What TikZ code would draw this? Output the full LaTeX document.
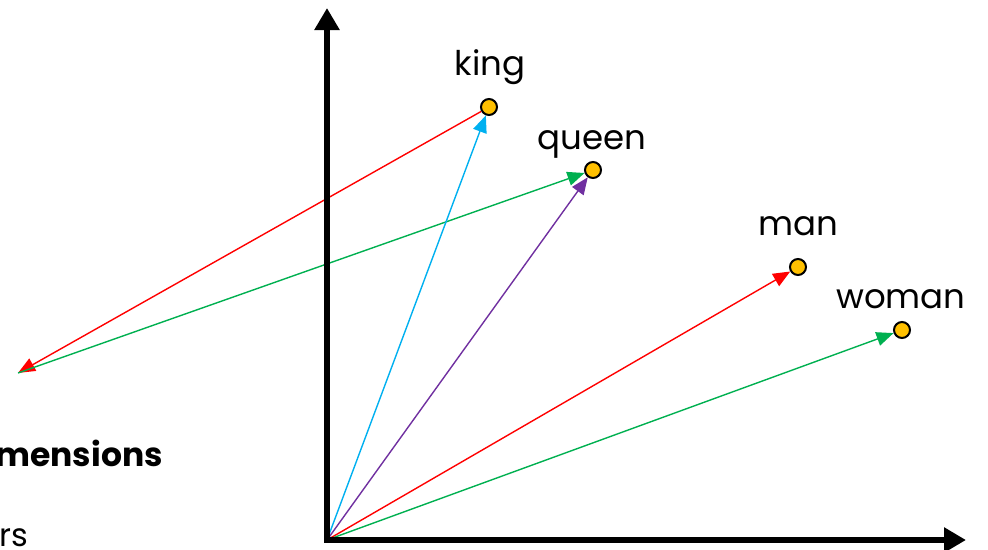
\documentclass[tikz,border=0pt]{standalone}
\usepackage{fontspec}
\setmainfont{Poppins}
\usetikzlibrary{arrows.meta}
\definecolor{dotfill}{HTML}{FFC000}
\definecolor{vred}{HTML}{FF0000}
\definecolor{vgreen}{HTML}{00B050}
\definecolor{vblue}{HTML}{00B0F0}
\definecolor{vpurple}{HTML}{7030A0}
\begin{document}
\begin{tikzpicture}[x=1pt,y=-1pt,
  dot/.style={circle,draw=black,line width=2pt,fill=dotfill,minimum size=16pt,inner sep=0pt},
  vec/.style={line width=1.4pt,-{Triangle[length=17pt,width=14pt]}},
  axis/.style={line width=6pt,-{Triangle[length=22pt,width=24pt]}},
  word/.style={font=\fontsize{34}{40}\selectfont,inner sep=0pt}]
\useasboundingbox (0,0) rectangle (988,549);
\coordinate (O) at (327,540);
\coordinate (Ytop) at (327,8);
\coordinate (Xend) at (966,540);
\coordinate (L) at (18,373);
\node[dot] (king) at (489,107) {};
\node[dot] (queen) at (593,170) {};
\node[dot] (man) at (798,267) {};
\node[dot] (woman) at (902,330) {};
\node[word,anchor=base] (tking) at (490,75) {king};
\node[word,anchor=base] (tqueen) at (592,149) {queen};
\node[word,anchor=base] (tman) at (798,235) {man};
\node[word,anchor=base] (twoman) at (901,308) {woman};
\draw[vec,vred] (king) -- (L);
\draw[vec,vgreen] (L) -- (queen);
\draw[vec,vblue] (O) -- (king);
\draw[vec,vpurple] (O) -- (queen);
\draw[vec,vred] (O) -- (man);
\draw[vec,vgreen] (O) -- (woman);
\draw[axis] ([yshift=3pt]O) -- (Ytop);
\draw[axis] ([xshift=-3pt]O) -- (Xend);
\node[font=\fontsize{33}{40}\selectfont\bfseries,anchor=base east,inner sep=0pt] (dim) at (163,466) {mensions};
\node[font=\fontsize{32}{38}\selectfont,anchor=base west,inner sep=0pt] (rs) at (-1,546) {rs};
\end{tikzpicture}
\end{document}
